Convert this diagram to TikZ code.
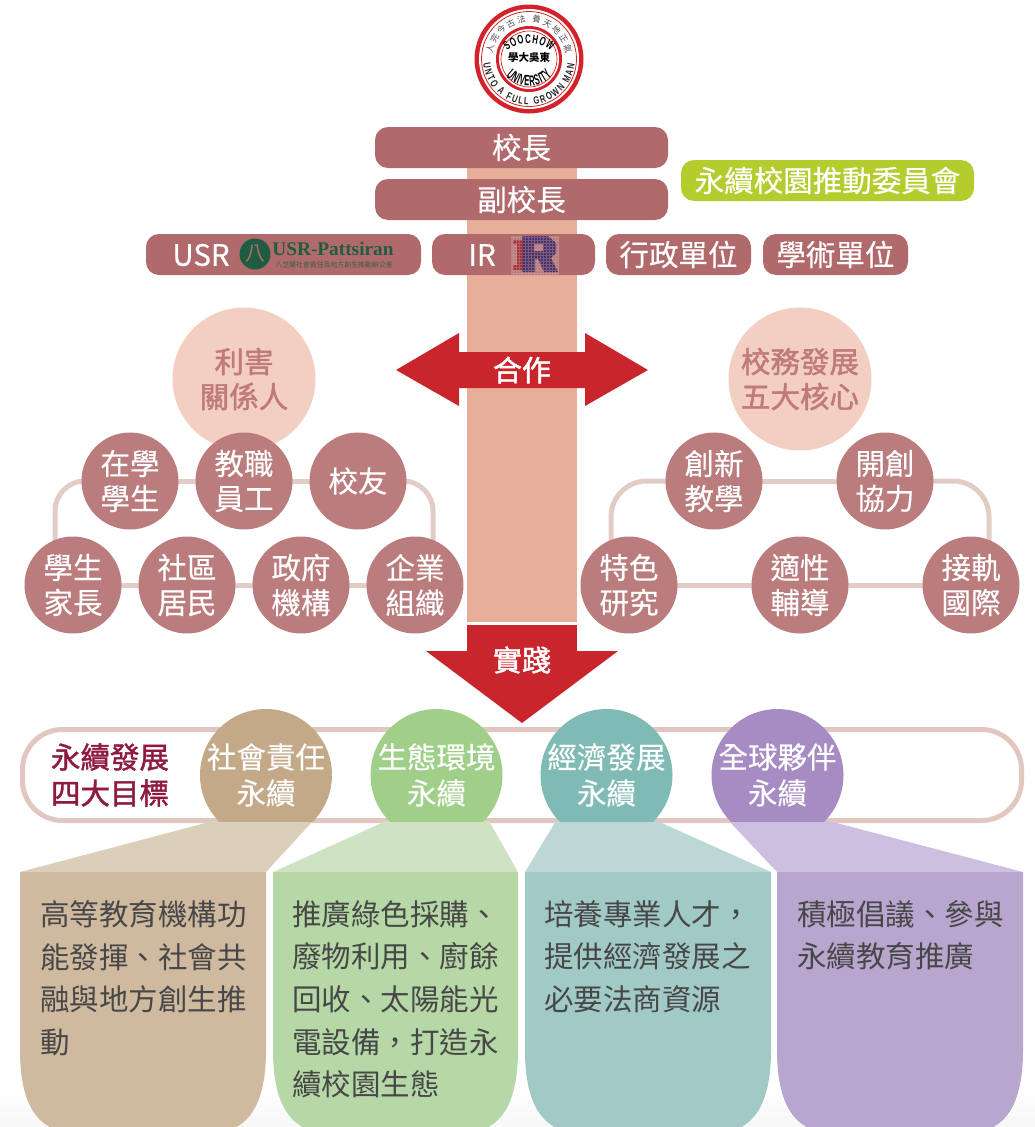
\documentclass[tikz,border=0pt]{standalone}
\usepackage{fontspec}
\setmainfont{Noto Sans CJK TC}
\newfontfamily\medf[FakeBold=0.35]{Noto Sans CJK TC}
\newfontfamily\strongf[FakeBold=1.5]{Noto Sans CJK TC}
\newfontfamily\latinserif{Liberation Serif}
\newfontfamily\sealA[FakeStretch=0.62,BoldFont={Liberation Sans Bold}]{Liberation Sans}
\newfontfamily\sealB[FakeStretch=0.5,BoldFont={Liberation Sans Bold}]{Liberation Sans}
\newfontfamily\sealC[FakeStretch=0.72,BoldFont={Liberation Sans Bold}]{Liberation Sans}
\usetikzlibrary{decorations.text,shadings}
\definecolor{pill}{HTML}{B06A6C}
\definecolor{ring}{HTML}{BA7C7D}
\definecolor{peach}{HTML}{F3CFC2}
\definecolor{pillar}{HTML}{E7AF9A}
\definecolor{linkc}{HTML}{E3CCC6}
\definecolor{bandc}{HTML}{E2C6C0}
\definecolor{redc}{HTML}{C9252C}
\definecolor{wine}{HTML}{8E1B3F}
\definecolor{bigtxt}{HTML}{C07A78}
\definecolor{lime}{HTML}{B5CC2E}
\definecolor{usrg}{HTML}{1E5D42}
\definecolor{logored}{HTML}{D2232A}
\definecolor{gA}{HTML}{C3A988}\definecolor{gB}{HTML}{9FCF88}\definecolor{gC}{HTML}{80BAB4}\definecolor{gD}{HTML}{A68CC2}
\definecolor{tA}{HTML}{DCCFBA}\definecolor{tB}{HTML}{CDE3C3}\definecolor{tC}{HTML}{BCD7D6}\definecolor{tD}{HTML}{CDBFDF}
\definecolor{pA}{HTML}{D0BA9F}\definecolor{pB}{HTML}{B6D8A6}\definecolor{pC}{HTML}{A1C9C5}\definecolor{pD}{HTML}{B8A6CF}
\newcommand{\mainsz}{\medf\fontsize{29.5}{35}\selectfont}
\tikzset{
 pillbox/.style={fill=pill,rounded corners=13pt,text=white,font=\mainsz,inner sep=0pt,minimum height=41pt},
 disc/.style={circle,fill=ring,text=white,font=\mainsz,align=center,inner sep=0pt,minimum size=97pt},
 bigdisc/.style={circle,fill=peach,text=bigtxt,font=\strongf\fontsize{29.5}{35}\selectfont,align=center,inner sep=0pt,minimum size=143pt},
 goal/.style={circle,inner sep=0pt,minimum size=132pt},
 goaltext/.style={text=white,font=\medf\fontsize{29.5}{36}\selectfont,align=center,inner sep=0pt},
 link/.style={draw=linkc,line width=5pt,rounded corners=30pt},
 paneltext/.style={anchor=north west,inner sep=0pt,align=left,text=black!72,font=\fontsize{29.5}{42.7}\selectfont},
 arrowtext/.style={text=white,font=\strongf\fontsize{29}{30}\selectfont,inner sep=0pt},
}
\begin{document}
\begin{tikzpicture}[x=1pt,y=-1pt]
\useasboundingbox (0,0) rectangle (1035,1127);
\shade[top color=white,bottom color=black!3] (0,1085) rectangle (1035,1127);

% central pillar
\fill[pillar] (467,150) rectangle (577,622);

% links, behind the discs
\coordinate (l1) at (130,481); \coordinate (l2) at (73,585);
\coordinate (r1) at (358,481); \coordinate (r2) at (415,585);
\coordinate (m1) at (714,481); \coordinate (m2) at (629,585);
\coordinate (n1) at (885,481); \coordinate (n2) at (971,585);
\draw[link] (l1) -- (55,481) -- (55,560);
\draw[link] (r1) -- (433,481) -- (433,560);
\draw[link] (l1) -- (r1);
\draw[link] (l2) -- (r2);
\draw[link,rounded corners=36pt] (m1) -- (611,481) -- (611,560);
\draw[link,rounded corners=36pt] (n1) -- (989,481) -- (989,560);
\draw[link] (m1) -- (n1);
\draw[link] (m2) -- (n2);

% big discs
\node[bigdisc] (stake) at (244,379) {利害\\關係人};
\node[bigdisc] (core) at (800,379) {校務發展\\五大核心};

% small discs
\node[disc] (a1) at (130,481) {在學\\學生};
\node[disc] (a2) at (244,481) {教職\\員工};
\node[disc] (a3) at (358,481) {校友};
\node[disc] (b1) at (73,585) {學生\\家長};
\node[disc] (b2) at (187,585) {社區\\居民};
\node[disc] (b3) at (301,585) {政府\\機構};
\node[disc] (b4) at (415,585) {企業\\組織};
\node[disc] (c1) at (714,481) {創新\\教學};
\node[disc] (c2) at (885,481) {開創\\協力};
\node[disc] (d1) at (629,585) {特色\\研究};
\node[disc] (d2) at (800,585) {適性\\輔導};
\node[disc] (d3) at (971,585) {接軌\\國際};

% pills
\node[pillbox,minimum width=293pt] (pres) at (521.5,147.5) {校長};
\node[pillbox,minimum width=293pt] (vice) at (521.5,199.5) {\raisebox{1.5pt}{副校長}};
\node[pillbox,minimum width=275pt] (usr) at (283.5,254.5) {};
\node[pillbox,minimum width=163pt] (ir) at (513.5,254.5) {};
\node[pillbox,minimum width=145pt] (adm) at (678.5,254.5) {行政單位};
\node[pillbox,minimum width=145pt] (aca) at (835.5,254.5) {學術單位};
\node[pillbox,fill=lime,minimum width=293pt] (cmte) at (827.5,180.5) {永續校園推動委員會};
\node[text=white,font=\mainsz,inner sep=0pt] (usrt) at (201,255) {USR};
\node[text=white,font=\mainsz,inner sep=0pt] (irt) at (482,255) {IR};

% USR-Pattsiran logo
\node[circle,fill=usrg,minimum size=31pt,inner sep=0pt,text=pill,font=\fontsize{20}{20}\selectfont] (usrlogo) at (255,254) {八};
\node[inner sep=0pt,text=usrg,font=\latinserif\bfseries\fontsize{19.3}{20}\selectfont] (usrname) at (333,249) {USR-Pattsiran};
\node[inner sep=0pt,text=usrg!85!pill,font=\fontsize{6.9}{7}\selectfont] (usrsub) at (334,265) {八芝蘭社會責任及地方創生推動辦公室};

% IR logo
\fill[white,opacity=.12] (511,236) rectangle (559,275);
\fill[red!60!black,opacity=.6] (513,240) -- (523,240) -- (523,270) -- (513,270) -- (513,265) -- (517,265) -- (517,244) -- (513,244) -- cycle;
\fill[blue!35!black,opacity=.6,even odd rule] (522,236) -- (548,236) -- (556,243) -- (556,253) -- (551,258) -- (558,272) -- (544,272) -- (538,259) -- (535,259) -- (535,272) -- (522,272) -- cycle
 (534,244) rectangle (543,251);
\draw[pill!55!white,line width=.5pt,step=3pt,opacity=.35] (511,236) grid (559,275);

% cooperation arrow
\fill[redc] (396,370) -- (459,333) -- (459,352) -- (585,352) -- (585,333) -- (648,370) -- (585,406) -- (585,388) -- (459,388) -- (459,406) -- cycle;
\node[arrowtext] (coop) at (522,370) {合作};
% practice arrow
\fill[redc] (467,625) rectangle (577,651);
\fill[redc] (426,651) -- (618,651) -- (522,723) -- cycle;
\node[arrowtext] (prac) at (522,660) {實踐};

% band
\draw[draw=bandc,line width=5pt,rounded corners=40pt] (22.5,729.5) rectangle (1021.5,820.5);
\node[inner sep=0pt,align=center,text=wine,font=\strongf\fontsize{29.5}{36}\selectfont] (goalt) at (110,775) {永續發展\\四大目標};

% trapezoids and panels
\fill[tA] (213,821) -- (313,821) -- (266,872) -- (20,872) -- cycle;
\fill[tB] (386,821) -- (489,821) -- (518,872) -- (273,872) -- cycle;
\fill[tC] (556,821) -- (657,821) -- (771,872) -- (525,872) -- cycle;
\fill[tD] (729,821) -- (829,821) -- (1023,872) -- (777,872) -- cycle;
\foreach \xa/\xb/\cc in {20/266/pA,273/518/pB,525/771/pC,777/1023/pD}{
 \fill[\cc] (\xa,872) -- (\xb,872) -- (\xb,1050)
  .. controls (\xb,1095) and ({\xb-12},1127) .. ({\xb-45},1132)
  -- ({\xa+45},1132)
  .. controls ({\xa+12},1127) and (\xa,1095) .. (\xa,1050) -- cycle;
}
% goal discs, cut flat at the band's lower edge
\begin{scope}
\clip (0,0) rectangle (1035,821.5);
\node[goal,fill=gA] (g1) at (266,775) {};
\node[goal,fill=gB] (g2) at (436.5,775) {};
\node[goal,fill=gC] (g3) at (606.5,775) {};
\node[goal,fill=gD] (g4) at (777.5,775) {};
\end{scope}
\node[goaltext] (g1t) at (g1) {社會責任\\永續};
\node[goaltext] (g2t) at (g2) {生態環境\\永續};
\node[goaltext] (g3t) at (g3) {經濟發展\\永續};
\node[goaltext] (g4t) at (g4) {全球夥伴\\永續};

% panel texts
\node[paneltext] (p1) at (40,900) {高等教育機構功\\能發揮、社會共\\融與地方創生推\\動};
\node[paneltext] (p2) at (292,900) {推廣綠色採購、\\廢物利用、廚餘\\回收、太陽能光\\電設備，打造永\\續校園生態};
\node[paneltext] (p3) at (544,900) {培養專業人才，\\提供經濟發展之\\必要法商資源};
\node[paneltext] (p4) at (797,900) {積極倡議、參與\\永續教育推廣};

% university seal
\begin{scope}[shift={(529,59)},y=1pt]
\fill[logored] (0,0) circle (54.5);
\fill[white] (0,0) circle (50);
\draw[logored,line width=.8pt] (0,0) circle (47.5);
\fill[logored] (0,0) circle (33);
\fill[white] (0,0) circle (30);
\draw[logored,line width=.7pt] (0,0) circle (28);
\path[postaction={decorate},decoration={text along path,text align=fit to path,
 text={|\fontsize{8.5}{9}\selectfont\color{black!70}|人完今古法 養天地正氣}}]
 (172:37) arc (172:8:37);
\path[postaction={decorate},decoration={text along path,text align=fit to path,
 text={|\sealC\bfseries\fontsize{10.5}{11}\selectfont\color{black!85}|UNTO A FULL GROWN MAN}}]
 (186:46) arc (186:354:46);
\path[postaction={decorate},decoration={text along path,text align=fit to path,
 text={|\sealA\bfseries\fontsize{12.5}{13}\selectfont|SOOCHOW}}]
 (-21.9,8) arc (130:50:34);
\path[postaction={decorate},decoration={text along path,text align=fit to path,
 text={|\sealB\bfseries\fontsize{15}{15}\selectfont|UNIVERSITY}}]
 (-23,-17.4) arc (225:315:32.6);
\node[inner sep=0pt,font=\fontsize{10.5}{11}\selectfont\bfseries] (sealc) at (0,1) {學大吳東};
\end{scope}
\end{tikzpicture}
\end{document}
